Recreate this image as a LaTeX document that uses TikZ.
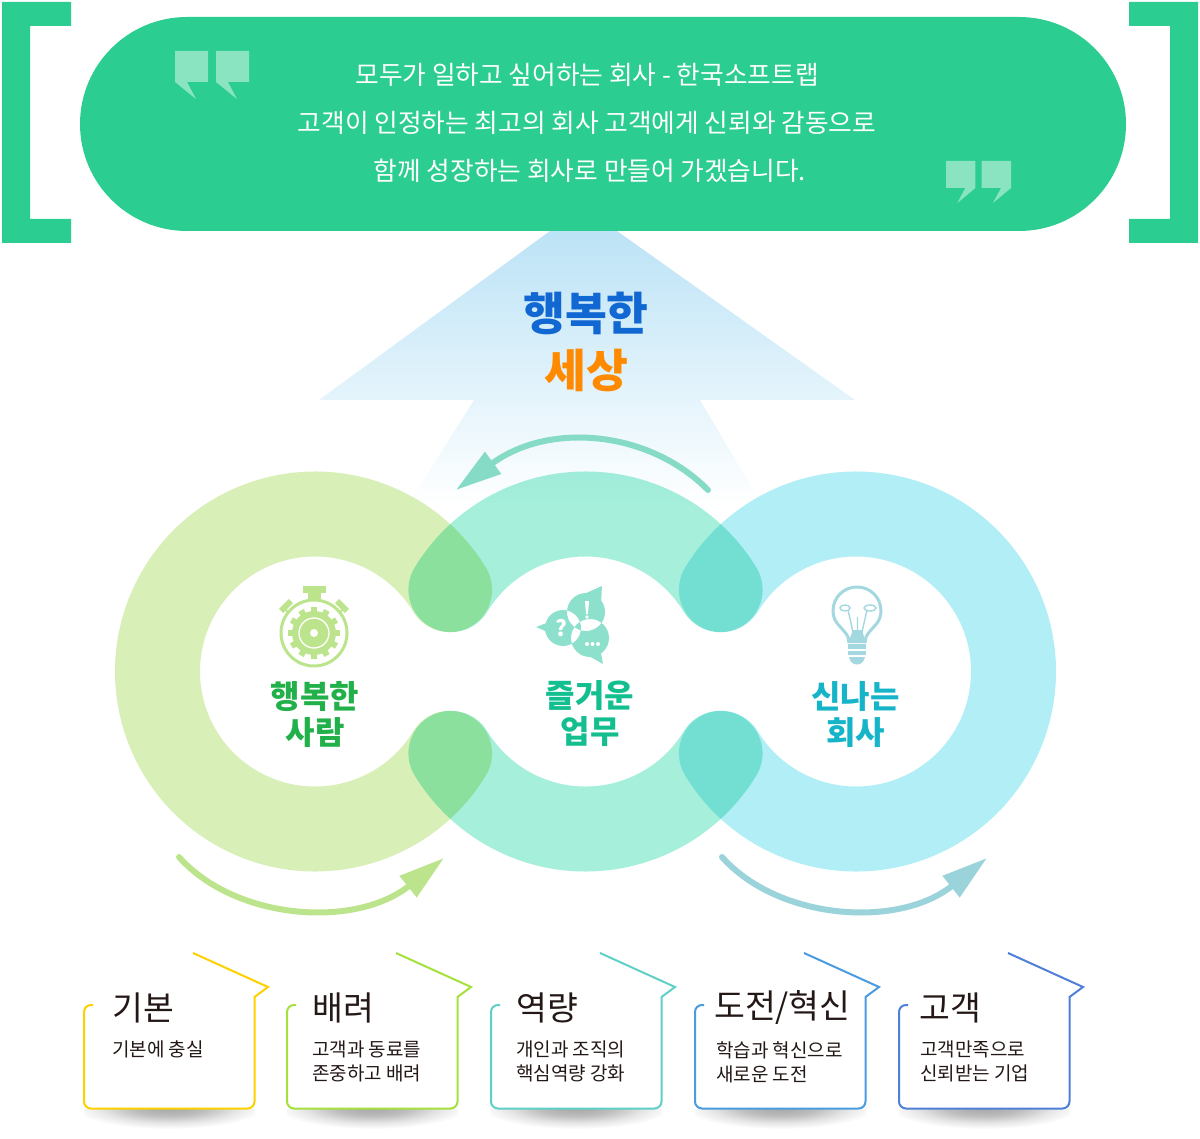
\documentclass[tikz,border=0pt]{standalone}
\usepackage{fontspec}
\setmainfont{Noto Sans CJK KR}
\usetikzlibrary{arrows.meta}
\definecolor{pillgreen}{HTML}{2BCE90}
\definecolor{skyblue}{HTML}{BCE3F6}
\definecolor{ringleft}{HTML}{D8F0B8}
\definecolor{ringmid}{HTML}{A5EFDB}
\definecolor{ringright}{HTML}{B2EEF5}
\definecolor{iconleft}{HTML}{BCE48C}
\definecolor{iconmid}{HTML}{8DE0CB}
\definecolor{iconright}{HTML}{A3D8E0}
\definecolor{arrowtop}{HTML}{85DBC5}
\definecolor{arrowright}{HTML}{9AD3DA}
\definecolor{inktext}{HTML}{231815}
\definecolor{wordblue}{HTML}{1268D2}
\definecolor{wordorange}{HTML}{FF8A00}
\definecolor{wordleft}{HTML}{22B04A}
\definecolor{wordmid}{HTML}{13BF8E}
\definecolor{wordright}{HTML}{16B4C8}
\definecolor{cardbasic}{HTML}{FFD000}
\definecolor{cardcare}{HTML}{A5E03C}
\definecolor{cardskill}{HTML}{5FD0C5}
\definecolor{cardchange}{HTML}{4A9BE0}
\definecolor{cardclient}{HTML}{4F7FD8}
\pgfdeclareradialshading{cardglow}{\pgfpoint{0bp}{0bp}}{color(0bp)=(black!36); color(10bp)=(black!26); color(18bp)=(black!10); color(25bp)=(white); color(50bp)=(white)}
\begin{document}
\begin{tikzpicture}[x=1pt,y=-1pt,
bracket/.style={fill=pillgreen,draw=none},
quotemark/.style={fill=white,fill opacity=0.45,draw=none},
ring/.style={draw=#1,line width=85pt,line cap=round,blend mode=multiply},
bend arrow/.style={draw=#1,line width=6pt,line cap=round,-{Triangle[length=46pt,width=26pt]}},
headline/.style={font=\fontsize{25.7}{30}\selectfont,text=white,inner sep=0pt},
bigword/.style={font=\fontsize{45.5}{50}\selectfont\bfseries,text=#1,inner sep=0pt},
ringword/.style={font=\fontsize{32}{36}\selectfont\bfseries,text=#1,inner sep=0pt,align=center},
cardtitle/.style={font=\fontsize{33.5}{38}\selectfont,text=inktext,anchor=west,inner sep=0pt},
cardtext/.style={font=\fontsize{19}{24}\selectfont,text=inktext,anchor=north west,inner sep=0pt,align=left}]
\useasboundingbox (0,0) rectangle (1200,1139);

% arrow behind the rings
\shade[top color=skyblue,bottom color=white]
  (319,400) -- (550,231) -- (617,231) -- (855,400) -- (700,400) -- (762,505) -- (408,505) -- (474,400) -- cycle;

% banner
\fill[bracket] (2,2) -- (71,2) -- (71,26) -- (30,26) -- (30,219) -- (71,219) -- (71,243) -- (2,243) -- cycle;
\fill[bracket] (1198,2) -- (1129,2) -- (1129,26) -- (1170,26) -- (1170,219) -- (1129,219) -- (1129,243) -- (1198,243) -- cycle;
\fill[pillgreen,rounded corners=107pt] (80,17) rectangle (1126,231);
\foreach \qx in {175,216}
  \fill[quotemark] (\qx,51) -- ++(33,0) -- ++(0,31) -- ++(-21,0) -- ++(9,17) -- ++(-21,-17) -- cycle;
\foreach \qx in {946,981.7}
  \fill[quotemark] (\qx,161) -- ++(29.3,0) -- ++(0,27) -- ++(-18,15) -- ++(8,-15) -- ++(-19.3,0) -- cycle;
\node[headline] (line1) at (587,74.5) {모두가 일하고 싶어하는 회사 - 한국소프트랩};
\node[headline] (line2) at (587,122.5) {고객이 인정하는 최고의 회사 고객에게 신뢰와 감동으로};
\node[headline] (line3) at (590,170.5) {함께 성장하는 회사로 만들어 가겠습니다.};
\node[bigword=wordblue] (happy) at (586,313) {행복한};
\node[bigword=wordorange] (world) at (586,370) {세상};

% rings
\draw[ring=ringleft] (315,671.5) ++(31.3:157.5) arc[start angle=31.3,end angle=328.7,radius=157.5];
\draw[ring=ringmid] (585.5,671.5) ++(211.3:157.5) arc[start angle=211.3,end angle=328.7,radius=157.5];
\draw[ring=ringmid] (585.5,671.5) ++(31.3:157.5) arc[start angle=31.3,end angle=148.7,radius=157.5];
\draw[ring=ringright] (856,671.5) ++(148.7:157.5) arc[start angle=148.7,end angle=-148.7,radius=157.5];

% arrows round the rings
\coordinate (topstart) at (708,490);
\coordinate (toptip) at (456,490);
\coordinate (leftstart) at (179,857);
\coordinate (lefttip) at (444,858);
\coordinate (rightstart) at (722,857);
\coordinate (righttip) at (987,858);
\draw[bend arrow=arrowtop] (topstart) .. controls (650,431) and (550,421) .. (toptip);
\draw[bend arrow=iconleft] (leftstart) .. controls (235,920) and (355,929) .. (lefttip);
\draw[bend arrow=arrowright] (rightstart) .. controls (778,920) and (898,929) .. (righttip);

% stopwatch
\fill[iconleft] (303,586) rectangle (326,593);
\fill[iconleft] (308,593) rectangle (321,601);
\foreach \ang/\ex in {-45/286,-135/342}{
  \fill[iconleft,rotate around={\ang+90:(\ex,606)}] (\ex-7,603) rectangle (\ex+7,609);
}
\draw[iconleft,line width=2pt] (290,614) -- (284,608) (338,614) -- (344,608);
\draw[iconleft,line width=3pt,fill=white] (314,633) circle[radius=33];
\foreach \ang in {0,30,...,330}
  \fill[iconleft,rotate around={\ang:(314,633)}] (311,607) rectangle (317,615);
\fill[iconleft] (314,633) circle[radius=22];
\draw[white,line width=1.3pt] (314,633) circle[radius=15];
\fill[white] (314,633) circle[radius=4];

% speech bubbles
\fill[iconmid,even odd rule] (586,612) circle[radius=19] (563,628) circle[radius=18] (590,638) circle[radius=19];
\fill[iconmid] (602,586) -- (584,594) -- (601,604) -- cycle;
\fill[iconmid] (536,627) -- (552,621) -- (552,634) -- cycle;
\fill[iconmid] (603,664) -- (587,655) -- (600,648) -- cycle;
\fill[white] (585,601) -- (589,601) -- (588,614) -- (586,614) -- cycle;
\fill[white] (587,617) circle[radius=1.8];
\node[font=\fontsize{22}{22}\selectfont\bfseries,text=white,inner sep=0pt] (askmark) at (561,628) {?};
\foreach \dx in {587,592.5,598}
  \fill[white] (\dx,644) circle[radius=2];

% bulb
\draw[iconright,line width=3pt,fill=white,line join=round] (849,643) -- (848,637) .. controls (843,627) and (833,624) .. (833,611) .. controls (833,597) and (844,587) .. (857,587) .. controls (870,587) and (881,597) .. (881,611) .. controls (881,624) and (871,627) .. (866,637) -- (865,643);
\draw[iconright,line width=1.4pt] (848,610) -- (853,632) (867,610) -- (862,632) (857.5,631) -- (857.5,617);
\draw[iconright,line width=1.4pt] (845,608) ellipse[x radius=5,y radius=3] (870,608) ellipse[x radius=6,y radius=3];
\fill[iconright] (853,630) -- (862,630) -- (866,643) -- (848,643) -- cycle;
\fill[iconright] (848,644) rectangle (866,649);
\fill[iconright] (848,651) rectangle (866,655);
\fill[iconright] (849,657) -- (865,657) .. controls (864,662) and (861,664.5) .. (857,664.5) .. controls (853,664.5) and (850,662) .. (849,657) -- cycle;

\node[ringword=wordleft] (people) at (315,714) {행복한\\사람};
\node[ringword=wordmid] (work) at (590,714) {즐거운\\업무};
\node[ringword=wordright] (fun) at (855.5,714) {신나는\\회사};

% cards
\foreach \cx/\tx/\sx/\cardcolor/\ctitle/\ctext/\cname in {
  84/112/112/cardbasic/기본/{기본에 충실}/basic,
  287/312/312/cardcare/배려/{고객과 동료를\\존중하고 배려}/care,
  491/516/516/cardskill/역량/{개인과 조직의\\핵심역량 강화}/skill,
  695/714/716/cardchange/도전\slash 혁신/{학습과 혁신으로\\새로운 도전}/change,
  899/919/920/cardclient/고객/{고객만족으로\\신뢰받는 기업}/client}{
  \begin{scope}
    \clip (\cx,1109) rectangle (\cx+171,1135);
    \shade[shading=cardglow] (\cx+85,1107) ellipse[x radius=95,y radius=22];
  \end{scope}
  \draw[color=\cardcolor,line width=2pt,rounded corners=7pt,line join=miter]
    (\cx+9,1005) -- (\cx,1005) -- (\cx,1108.5) -- (\cx+170.5,1108.5) [sharp corners] -- (\cx+170.5,997) -- (\cx+184,987) -- (\cx+109,953);
  \node[cardtitle] (title-\cname) at (\tx,1008) {\ctitle};
  \node[cardtext] (text-\cname) at (\sx,1041) {\ctext};
}
\end{tikzpicture}
\end{document}
